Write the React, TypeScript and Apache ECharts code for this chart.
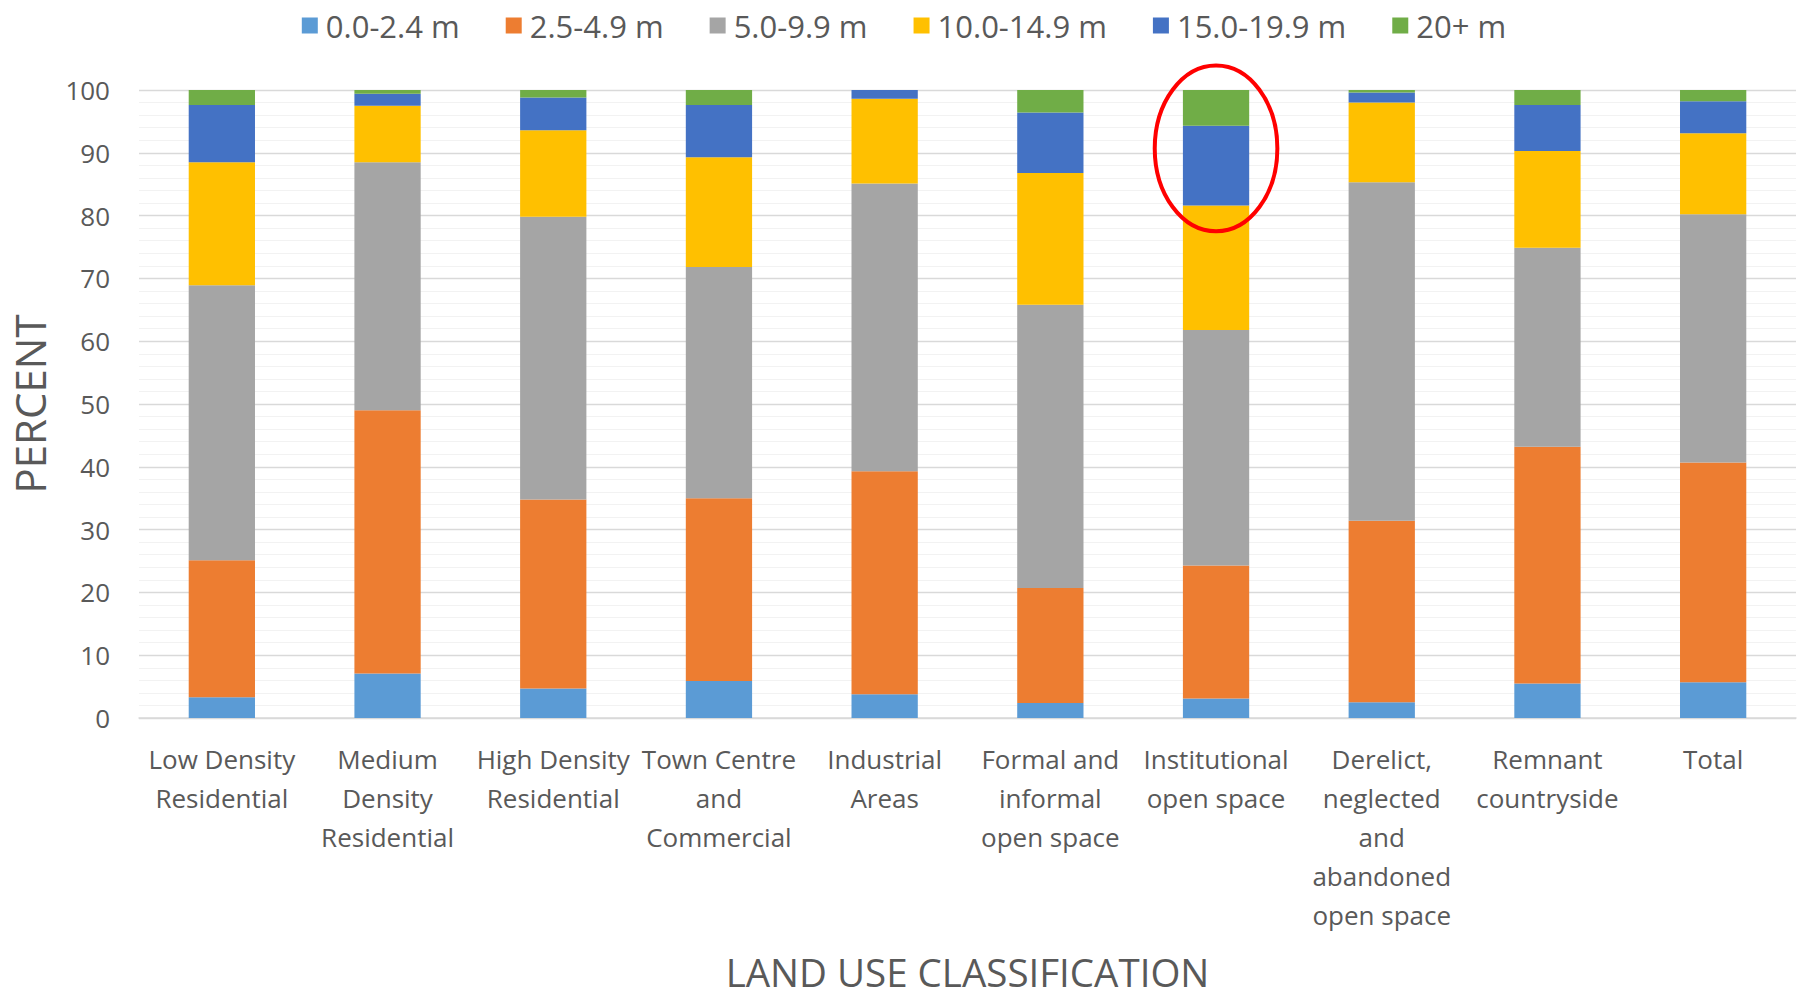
import React, { useEffect, useRef } from "react";
import * as echarts from "echarts";

const categories = [
  "Low Density\nResidential",
  "Medium\nDensity\nResidential",
  "High Density\nResidential",
  "Town Centre\nand\nCommercial",
  "Industrial\nAreas",
  "Formal and\ninformal\nopen space",
  "Institutional\nopen space",
  "Derelict,\nneglected\nand\nabandoned\nopen space",
  "Remnant\ncountryside",
  "Total",
];

const seriesNames = ["0.0-2.4 m", "2.5-4.9 m", "5.0-9.9 m", "10.0-14.9 m", "15.0-19.9 m", "20+ m"];
const colors = ["#5B9BD5", "#ED7D31", "#A5A5A5", "#FFC000", "#4472C4", "#70AD47"];

const h0to2 = [3.3, 7.1, 4.7, 5.9, 3.8, 2.4, 3.1, 2.5, 5.5, 5.7];
const h2to5 = [21.8, 41.9, 30.1, 29.1, 35.5, 18.3, 21.2, 28.9, 37.7, 35.0];
const h5to10 = [43.8, 39.5, 45.0, 36.8, 45.8, 45.1, 37.5, 53.9, 31.7, 39.5];
const h10to15 = [19.6, 9.0, 13.8, 17.5, 13.5, 21.0, 19.8, 12.7, 15.4, 12.9];
const h15to20 = [9.1, 1.9, 5.2, 8.3, 1.4, 9.6, 12.7, 1.6, 7.3, 5.1];
const h20plus = [2.4, 0.6, 1.2, 2.4, 0.0, 3.6, 5.7, 0.4, 2.4, 1.8];

const seriesData = [h0to2, h2to5, h5to10, h10to15, h15to20, h20plus];

// highlighted annotation (red ellipse) around the Institutional open space top
const highlightIndex = 6;
const highlightCenterValue = 90.7;
const highlightHalfHeightValue = 13.2;
const highlightHalfWidthBands = 0.37;

const FONT = "'Open Sans', sans-serif";
const TEXT = "#595959";

export default function App() {
  const ref = useRef<HTMLDivElement>(null);

  useEffect(() => {
    document.body.style.margin = "0";
    if (!ref.current) return;
    const chart = echarts.init(ref.current, null, { renderer: "svg" });
    const option: any = {
      animation: false,
      textStyle: { fontFamily: FONT },
      color: colors,
      legend: {
        top: 5,
        left: "center",
        itemWidth: 16,
        itemHeight: 16,
        itemGap: 46,
        icon: "rect",
        textStyle: { fontSize: 31, color: TEXT, fontFamily: FONT, padding: [0, 0, 0, 3] },
        data: seriesNames,
      },
      grid: { left: 137, right: 12, top: 90, bottom: 275, containLabel: false },
      xAxis: {
        type: "category",
        data: categories,
        name: "LAND USE CLASSIFICATION",
        nameLocation: "middle",
        nameGap: 234,
        nameTextStyle: { fontSize: 38.5, color: TEXT, fontFamily: FONT },
        axisLine: { show: true, lineStyle: { color: "#d9d9d9", width: 1.5 } },
        axisTick: { show: false },
        axisLabel: {
          interval: 0,
          fontSize: 26,
          lineHeight: 39,
          color: TEXT,
          margin: 21,
          fontFamily: FONT,
        },
      },
      yAxis: {
        type: "value",
        min: 0,
        max: 100,
        interval: 10,
        name: "PERCENT",
        nameLocation: "middle",
        nameRotate: 90,
        nameGap: 89,
        nameTextStyle: { fontSize: 42, color: TEXT, fontFamily: FONT },
        axisLine: { show: false },
        axisTick: { show: false },
        axisLabel: { fontSize: 26, color: TEXT, margin: 29, fontFamily: FONT },
        splitLine: { show: true, lineStyle: { color: "#d9d9d9", width: 1.3 } },
        minorTick: { show: false, splitNumber: 5 },
        minorSplitLine: { show: true, lineStyle: { color: "#f2f2f2", width: 1 } },
      },
      series: seriesNames.map((name, i) => ({
        name,
        type: "bar",
        stack: "total",
        barWidth: "40%",
        data: seriesData[i],
        itemStyle: { color: colors[i] },
      })),
    };
    chart.setOption(option);

    const c = chart.convertToPixel({ gridIndex: 0 }, [highlightIndex, highlightCenterValue]) as number[];
    const n = chart.convertToPixel({ gridIndex: 0 }, [highlightIndex + 1, highlightCenterValue]) as number[];
    const t = chart.convertToPixel({ gridIndex: 0 }, [highlightIndex, highlightCenterValue + highlightHalfHeightValue]) as number[];
    if (c && n && t) {
      const rx = (n[0] - c[0]) * highlightHalfWidthBands;
      const ry = c[1] - t[1];
      chart.setOption({
        graphic: [
          {
            type: "ellipse",
            shape: { cx: c[0], cy: c[1], rx, ry },
            style: { fill: "none", stroke: "#FF0000", lineWidth: 4 },
            z: 100,
          },
        ],
      });
    }

    return () => chart.dispose();
  }, []);

  return <div ref={ref} style={{ width: 1808, height: 996 }} />;
}
